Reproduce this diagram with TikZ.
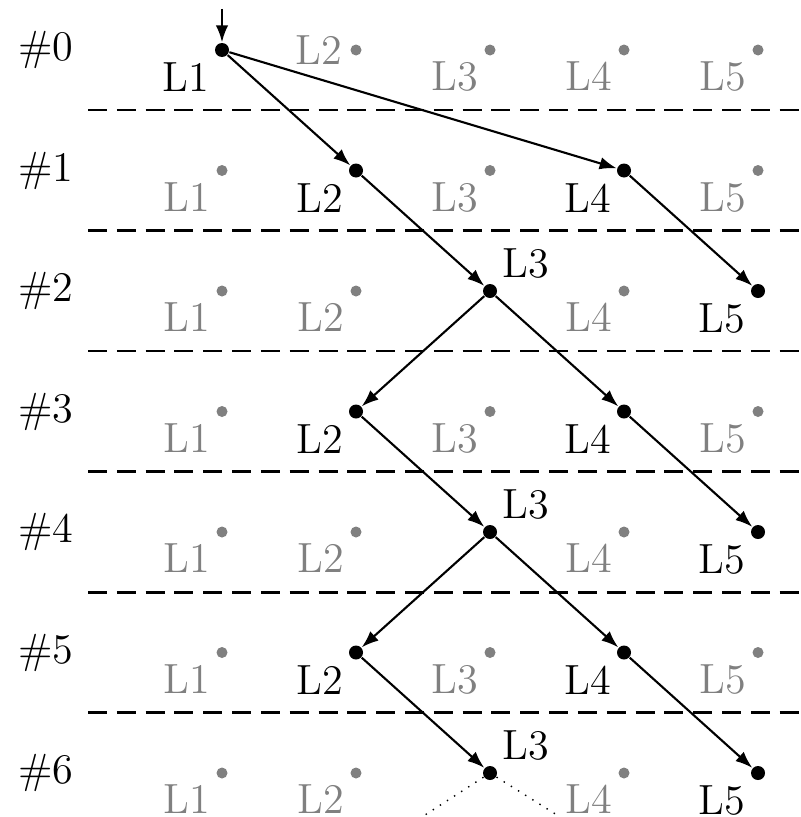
\documentclass[tikz,border=0pt]{standalone}
\usepackage{tikz}
\usetikzlibrary{arrows.meta}
\usetikzlibrary{positioning}
\tikzstyle{active}=[circle,fill=black,draw=none,minimum size=0.14cm,inner sep=0pt]
\tikzstyle{idle}=[circle,fill=black!50,draw=none,minimum size=0.11cm,inner sep=0pt]
\tikzstyle{activetext}=[font=\large,inner sep=1.5pt,text=black]
\tikzstyle{idletext}=[font=\large,inner sep=1.5pt,text=black!50]
\tikzstyle{steplabel}=[font=\large,inner sep=0pt]
\tikzstyle{edge} = [draw,semithick,-{Latex[length=0.17cm,width=0.125cm]}]
\tikzstyle{tail} = [draw,dotted]
\tikzstyle{separator} = [draw,line width=0.85pt,dash pattern=on 5.4pt off 2.8pt]

\begin{document}
\begin{tikzpicture}
    \useasboundingbox (0,0) rectangle (8.01,-8.17);
    % Step numbers and the dashed lines between the steps
    \foreach \r in {0,...,6}
        \node[steplabel] (step\r) at (0.46,{-0.50-1.205*\r}) {\#\r};
    \foreach \r in {0,...,5}
        \draw[separator] (0.88,{-1.10-1.205*\r}) -- (8.01,{-1.10-1.205*\r});

    % Then the levels L1..L5 of every step, with their labels
    \foreach \r/\kinds in {
    0/{active/below left, idle/left, idle/below left, idle/below left, idle/below left},
    1/{idle/below left, active/below left, idle/below left, active/below left, idle/below left},
    2/{idle/below left, idle/below left, active/above right, idle/below left, active/below left},
    3/{idle/below left, active/below left, idle/below left, active/below left, idle/below left},
    4/{idle/below left, idle/below left, active/above right, idle/below left, active/below left},
    5/{idle/below left, active/below left, idle/below left, active/below left, idle/below left},
    6/{idle/below left, idle/below left, active/above right, idle/below left, active/below left}}
        \foreach \kind/\pos [count=\c] in \kinds {
            \node[\kind] (r\r L\c) at ({2.22+1.34*(\c-1)},{-0.50-1.205*\r}) {};
            \node[\kind text, \pos=0.02cm of r\r L\c] (t\r L\c) {L\c};
        }

    % Connect the levels
    \coordinate (start) at (2.22,-0.09);
    \path[edge] (start) -- (r0L1);
    \foreach \source/\dest in {r0L1/r1L2, r0L1/r1L4, r1L2/r2L3, r1L4/r2L5,
    r2L3/r3L2, r2L3/r3L4, r3L2/r4L3, r3L4/r4L5, r4L3/r5L2, r4L3/r5L4,
    r5L2/r6L3, r5L4/r6L5}
        \path[edge] (\source) -- (\dest);
    \coordinate (tailL) at (4.25,-8.15);
    \coordinate (tailR) at (5.57,-8.15);
    \path[tail] (r6L3) -- (tailL);
    \path[tail] (r6L3) -- (tailR);
\end{tikzpicture}
\end{document}
